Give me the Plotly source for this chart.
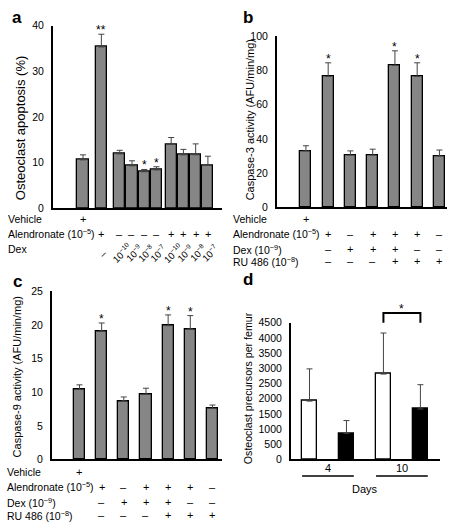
import plotly.graph_objects as go
import numpy as np

W, H = 453, 530
FONT = "Liberation Sans, Arial, Helvetica, sans-serif"

# ---------------- data ----------------
# Panel a: osteoclast apoptosis (%)
a_values = [10.6, 35.3, 11.9, 9.3, 8.0, 8.4, 14.0, 11.7, 11.7, 9.4]
a_errors = [1.1, 2.8, 0.8, 1.1, 0.5, 0.7, 1.5, 1.2, 2.4, 2.0]
a_stars = ["", "**", "", "", "*", "*", "", "", "", ""]
a_group = [0, 1, 2, 2, 2, 2, 3, 3, 3, 3]
a_vehicle = ["+", "", "", "", "", "", "", "", "", ""]
a_alendronate = ["", "+", "–", "–", "–", "–", "+", "+", "+", "+"]
a_dex = ["", "–", "10<sup>−10</sup>", "10<sup>−9</sup>", "10<sup>−8</sup>", "10<sup>−7</sup>",
         "10<sup>−10</sup>", "10<sup>−9</sup>", "10<sup>−8</sup>", "10<sup>−7</sup>"]
a_row_labels = ["Vehicle", "Alendronate (10<sup>−5</sup>)", "Dex"]

# Panel b: caspase-3 activity
b_values = [33.0, 76.5, 30.5, 30.5, 83.0, 76.5, 30.0]
b_errors = [3.0, 8.0, 2.5, 3.5, 8.5, 8.0, 3.5]
b_stars = ["", "*", "", "", "*", "*", ""]

# Panel c: caspase-9 activity
c_values = [10.4, 19.1, 8.7, 9.7, 19.9, 19.4, 7.6]
c_errors = [0.7, 1.2, 0.6, 0.9, 1.6, 2.0, 0.5]
c_stars = ["", "*", "", "", "*", "*", ""]

# treatment table shared by b and c
bc_vehicle = ["+", "", "", "", "", "", ""]
bc_alendronate = ["", "+", "–", "+", "+", "+", "–"]
bc_dex = ["", "–", "+", "+", "+", "–", "–"]
bc_ru486 = ["", "–", "–", "–", "+", "+", "+"]
bc_row_labels = ["Vehicle", "Alendronate (10<sup>−5</sup>)", "Dex (10<sup>−9</sup>)", "RU 486 (10<sup>−8</sup>)"]

# Panel d: osteoclast precursors per femur
d_days = ["4", "10"]
d_values = [1920, 860, 2810, 1660]
d_errors = [1060, 420, 1350, 800]
d_colors = ["white", "black", "white", "black"]

# ---------------- layout helpers ----------------
def xd(p):
    return p / W

def yd(p):
    return 1 - p / H

GRAY = "#868686"
ERRC = "#444444"

fig = go.Figure()

# bar slot positions (1-based slots, extra gaps between treatment groups)
a_gap = [0.0, 0.5, 0.5, 0.2]
a_x = [1 + i + sum(a_gap[: g + 1]) for i, g in enumerate(a_group)]
b_x = [1 + i for i in range(len(b_values))]
c_x = [1 + i for i in range(len(c_values))]
d_x = [1 + i for i in range(len(d_values))]


def add_bars(x, vals, errs, xa, ya, width, colors, errw=3):
    fig.add_trace(go.Bar(
        x=x, y=vals, width=width, xaxis=xa, yaxis=ya,
        marker=dict(color=colors, line=dict(color="black", width=1.3)),
        error_y=dict(type="data", array=errs, arrayminus=[0] * len(errs), symmetric=False,
                     color=ERRC, thickness=1, width=errw),
        showlegend=False, hoverinfo="skip",
    ))


add_bars(a_x, a_values, a_errors, "x", "y", 0.9, GRAY)
add_bars(b_x, b_values, b_errors, "x2", "y2", 0.49, GRAY)
add_bars(c_x, c_values, c_errors, "x3", "y3", 0.5, GRAY)
add_bars(d_x, d_values, d_errors, "x4", "y4", 0.405, d_colors)

axis_common = dict(showline=True, linecolor="black", linewidth=2, showgrid=False,
                   zeroline=False, mirror=False)
yaxis_common = dict(axis_common, ticks="outside", ticklen=5, tickcolor="rgba(0,0,0,0)",
                    tickfont=dict(family=FONT, size=10.5, color="black"))
xaxis_common = dict(axis_common, showticklabels=False, ticks="")

fig.update_layout(
    width=W, height=H, margin=dict(l=0, r=0, t=0, b=0),
    paper_bgcolor="white", plot_bgcolor="white",
    font=dict(family=FONT, color="black"),
    bargap=0,
    xaxis=dict(xaxis_common, domain=[xd(53), xd(222)], range=[-1.45, 12.35], anchor="y"),
    yaxis=dict(yaxis_common, domain=[yd(207), yd(20)], range=[0, 40], dtick=10, anchor="x"),
    xaxis2=dict(xaxis_common, domain=[xd(277), xd(447)], range=[-0.30, 7.34], anchor="y2"),
    yaxis2=dict(yaxis_common, domain=[yd(206), yd(31)], range=[0, 100], dtick=20, anchor="x2"),
    xaxis3=dict(xaxis_common, domain=[xd(52), xd(222)], range=[-0.24, 7.43], anchor="y3"),
    yaxis3=dict(yaxis_common, domain=[yd(464), yd(292)], range=[0, 25], dtick=5, anchor="x3"),
    xaxis4=dict(xaxis_common, domain=[xd(291), xd(440)], range=[0.5, 4.53], anchor="y4"),
    yaxis4=dict(yaxis_common, domain=[yd(464), yd(324)], range=[0, 4500], dtick=500, anchor="x4"),
)

ann = []


def txt(text, x, y, xref="paper", yref="paper", size=10.5, xanchor="center", yanchor="middle",
        angle=0, bold=False, **kw):
    if bold:
        text = "<b>" + text + "</b>"
    ann.append(dict(text=text, x=x, y=y, xref=xref, yref=yref, showarrow=False,
                    xanchor=xanchor, yanchor=yanchor, textangle=angle,
                    font=dict(family=FONT, size=size, color="black"), **kw))


# panel letters
txt("a", xd(17), yd(12), size=17, bold=True)
txt("b", xd(248), yd(12), size=17, bold=True)
txt("c", xd(17), yd(282), size=17, bold=True)
txt("d", xd(248), yd(280), size=17, bold=True)

# y titles
txt("Osteoclast apoptosis (%)", xd(20), yd(125), size=13, angle=-90)
txt("Caspase-3 activity (AFU/min/mg)", xd(250), yd(117), size=11, angle=-90)
txt("Caspase-9 activity (AFU/min/mg)", xd(17), yd(380), size=11, angle=-90)
txt("Osteoclast precursors per femur", xd(248), yd(391), size=10.6, angle=-90)

# stars
for xs, vals, errs, stars, xa, ya in [
    (a_x, a_values, a_errors, a_stars, "x", "y"),
    (b_x, b_values, b_errors, b_stars, "x2", "y2"),
    (c_x, c_values, c_errors, c_stars, "x3", "y3"),
]:
    for xi, v, e, s in zip(xs, vals, errs, stars):
        if s:
            txt(s, xi, v + e, xref=xa, yref=ya, size=12, yanchor="bottom", yshift=-5)

# panel a table
a_rows_y = [218, 233, 249]
for lbl, yy in zip(a_row_labels, a_rows_y):
    txt(lbl, xd(6), yd(yy), xanchor="left")
for xi, s in zip(a_x, a_vehicle):
    if s:
        txt(s, xi, yd(a_rows_y[0]), xref="x", size=11)
for xi, s in zip(a_x, a_alendronate):
    if s:
        txt(s, xi, yd(a_rows_y[1]), xref="x", size=11)
for xi, s in zip(a_x, a_dex):
    if s:
        txt(s, xi, yd(253), xref="x", size=9.5, angle=-45, xshift=2)

# panels b and c tables
for xa, rows_y, lx, xs in [("x2", [218, 233, 249, 261], 231, b_x), ("x3", [477, 492, 508, 521], 5, c_x)]:
    for lbl, yy in zip(bc_row_labels, rows_y):
        txt(lbl, xd(lx), yd(yy), xanchor="left")
    for row, yy in zip([bc_vehicle, bc_alendronate, bc_dex, bc_ru486], rows_y):
        for xi, s in zip(xs, row):
            if s:
                txt(s, xi, yd(yy), xref=xa, size=11)

# panel d: day labels, underlines, bracket
shapes = []
for gi, day in enumerate(d_days):
    x0, x1 = d_x[2 * gi], d_x[2 * gi + 1]
    txt(day, (x0 + x1) / 2, -0.064, xref="x4", yref="y4 domain", size=11)
    shapes.append(dict(type="line", xref="x4", yref="y4 domain", x0=x0 - 0.2, x1=x1 + 0.2,
                       y0=-0.121, y1=-0.121, line=dict(color="black", width=1.5)))
txt("Days", (d_x[0] + d_x[-1]) / 2, -0.214, xref="x4", yref="y4 domain", size=11)
shapes.append(dict(type="path", xref="x4", yref="y4 domain",
                   path=f"M {d_x[2]} 1.0 L {d_x[2]} 1.071 L {d_x[3]} 1.071 L {d_x[3]} 1.0",
                   line=dict(color="black", width=2)))
txt("*", (d_x[2] + d_x[3]) / 2, 1.071, xref="x4", yref="y4 domain", size=12, yanchor="bottom", yshift=-5)

fig.update_layout(annotations=ann, shapes=shapes)
fig.write_html("out.html", config={"displayModeBar": False},
               post_script="document.body.style.margin='0';document.body.style.overflow='hidden';")
